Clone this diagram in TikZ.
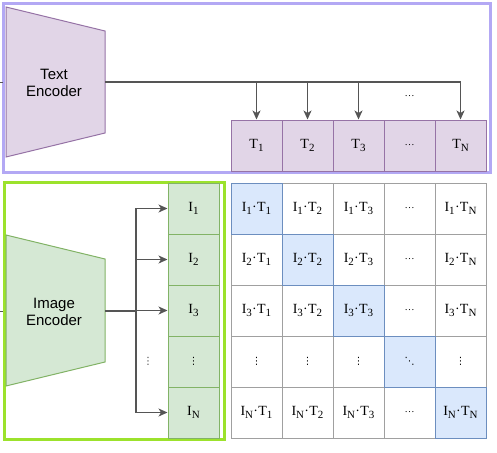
\documentclass[tikz,border=0pt]{standalone}
\usepackage{fontspec}
\setmainfont{Liberation Serif}
\newfontfamily\arialf{Liberation Sans}
\newfontfamily\dejaf{DejaVu Sans}
\usetikzlibrary{arrows.meta}
\definecolor{purpframe}{HTML}{B3A8F4}
\definecolor{greenframe}{HTML}{9CE22C}
\definecolor{purpfill}{HTML}{E1D5E7}
\definecolor{purpline}{HTML}{9673A6}
\definecolor{greenfill}{HTML}{D5E8D4}
\definecolor{greenline}{HTML}{82B366}
\definecolor{bluefill}{HTML}{DAE8FC}
\definecolor{blueline}{HTML}{6C8EBF}
\definecolor{gridline}{HTML}{A0A0A0}
\definecolor{arrowc}{HTML}{555555}
\newcommand{\lsub}[1]{\raisebox{-3.2pt}{\fontsize{11}{11}\selectfont #1}}
\newcommand{\prodtxt}[2]{I\lsub{#1}\kern0.3pt·\kern0.3pt T\lsub{#2}}
\tikzset{
  cell/.style={draw=gridline, line width=1pt, minimum width=51pt, minimum height=51pt, inner sep=0pt, font=\fontsize{14}{16}\selectfont},
  diagcell/.style={cell, draw=blueline, fill=bluefill},
  tbox/.style={cell, draw=purpline, fill=purpfill},
  ibox/.style={cell, draw=greenline, fill=greenfill},
  enctext/.style={font=\arialf\fontsize{15}{17.5}\selectfont, align=center, inner sep=0pt},
  arr/.style={draw=arrowc, line width=1.3pt, -{Stealth[length=9pt,width=8pt,inset=2.5pt]}},
  ln/.style={draw=arrowc, line width=1.5pt},
  vdots/.style={font=\dejaf\fontsize{10}{10}\selectfont, inner sep=0pt},
  hdots/.style={font=\fontsize{10}{10}\selectfont, inner sep=0pt}
}
\begin{document}
\begin{tikzpicture}[x=1pt,y=-1pt]
\useasboundingbox (0,0) rectangle (497,452);
% frames
\draw[purpframe, line width=3pt] (3.5,3.5) rectangle (490.5,172.5);
% text encoder
\draw[fill=purpfill, draw=purpline, line width=1pt] (6,7) -- (105,31) -- (105,133) -- (6,157) -- cycle;
\node[enctext] (te) at (54,83) {Text\\Encoder};
\coordinate (teout) at (105,82);
\coordinate (tein) at (0,82);
\coordinate (teinr) at (2.5,82);
\draw[ln, line width=1pt] (tein) -- (teinr);
% T boxes
\node[tbox] (t1) at (256.5,145.5) {T\lsub{1}};
\node[tbox] (t2) at (307.5,145.5) {T\lsub{2}};
\node[tbox] (t3) at (358.5,145.5) {T\lsub{3}};
\node[tbox] (t4) at (409.5,145.5) {\fontsize{10}{10}\selectfont …};
\node[tbox] (tn) at (460.5,145.5) {T\lsub{N}};
\node[hdots] (tdots) at (409.5,96) {…};
\draw[ln] (teout) -- (460.5,82);
\foreach \t in {t1,t2,t3,tn} {\draw[arr] (teout) -| (\t.north);}
% green frame
\draw[greenframe, line width=3pt] (4.5,182.5) rectangle (224,439.5);
% image encoder
\draw[fill=greenfill, draw=greenline, line width=1pt] (6,235) -- (105,259) -- (105,362) -- (6,386) -- cycle;
\node[enctext] (ie) at (54,312) {Image\\Encoder};
\coordinate (ieout) at (105,311);
\coordinate (iein) at (0,311);
\coordinate (ieinr) at (2.5,311);
\draw[ln, line width=1pt] (iein) -- (ieinr);
\coordinate (ibr) at (136,311);
% I boxes
\node[ibox] (i1) at (193.5,208.5) {I\lsub{1}};
\node[ibox] (i2) at (193.5,259.5) {I\lsub{2}};
\node[ibox] (i3) at (193.5,310.5) {I\lsub{3}};
\node[ibox] (i4) at (193.5,361.5) {\dejaf\fontsize{10}{10}\selectfont ⋮};
\node[ibox] (in) at (193.5,412.5) {I\lsub{N}};
\node[vdots, text=black!75] (idots) at (148,361.5) {⋮};
\draw[ln] (ieout) -- (ibr);
\foreach \i in {i1,i2,i3,in} {\draw[arr, line width=1.2pt] (ibr) |- (\i.west);}
% matrix
\foreach \r/\ri [count=\ry from 0] in {1/1,2/2,3/3,4/4,N/5} {
  \foreach \c/\ci [count=\cx from 0] in {1/1,2/2,3/3,4/4,N/5} {
    \pgfmathsetmacro{\xx}{256.5+51*\cx}
    \pgfmathsetmacro{\yy}{208.5+51*\ry}
    \ifnum\ri=\ci\relax\else
      \ifnum\ri=4
        \node[cell] (m\ri\ci) at (\xx,\yy) {\dejaf\fontsize{10}{10}\selectfont ⋮};
      \else\ifnum\ci=4
        \node[cell] (m\ri\ci) at (\xx,\yy) {\fontsize{10}{10}\selectfont …};
      \else
        \node[cell] (m\ri\ci) at (\xx,\yy) {\prodtxt{\r}{\c}};
      \fi\fi
    \fi
  }
}
\node[diagcell] (m11) at (256.5,208.5) {\prodtxt{1}{1}};
\node[diagcell] (m22) at (307.5,259.5) {\prodtxt{2}{2}};
\node[diagcell] (m33) at (358.5,310.5) {\prodtxt{3}{3}};
\node[diagcell] (m44) at (409.5,361.5) {\dejaf\fontsize{10}{10}\selectfont ⋱};
\node[diagcell] (m55) at (460.5,412.5) {\prodtxt{N}{N}};
\end{tikzpicture}
\end{document}
